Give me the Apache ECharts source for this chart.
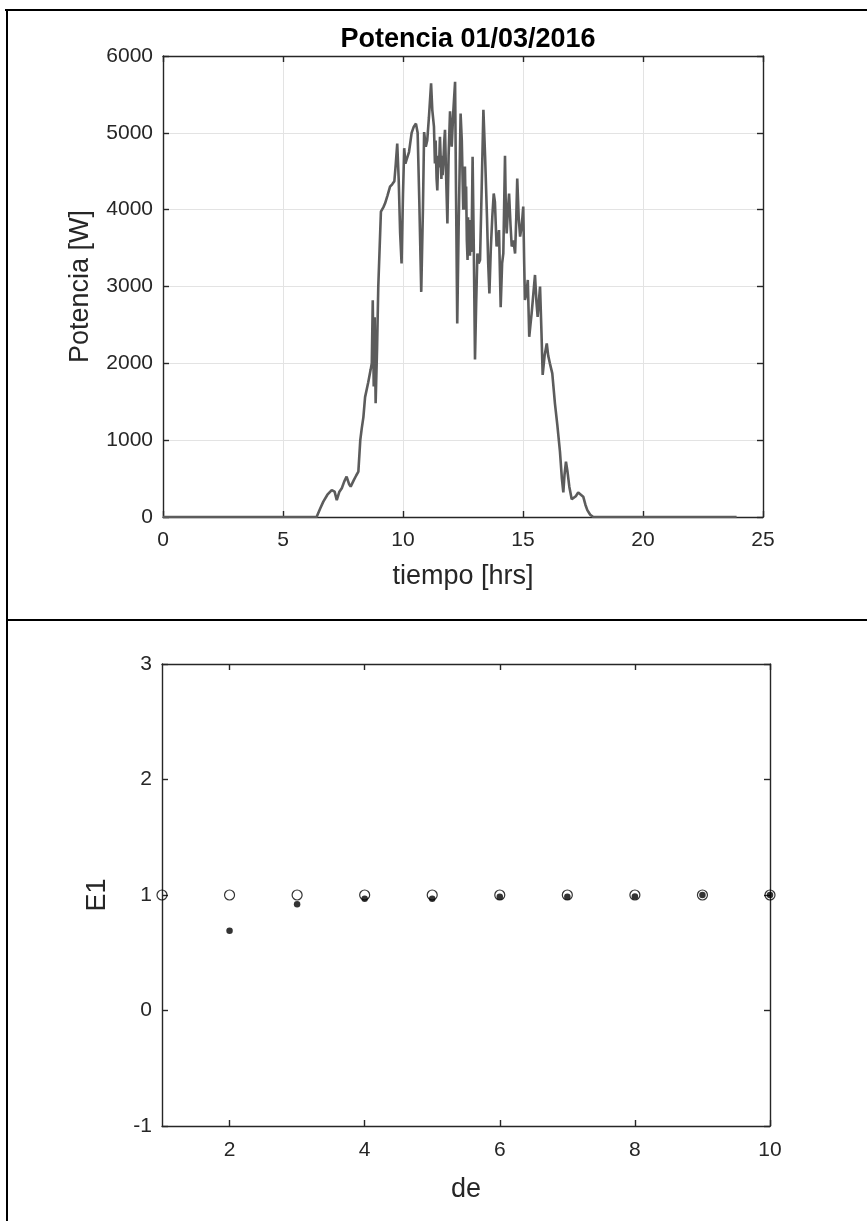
<!DOCTYPE html>
<html>
<head>
<meta charset="utf-8">
<script src="https://cdn.jsdelivr.net/npm/echarts@6/dist/echarts.min.js"></script>
<style>
html,body{margin:0;padding:0;background:#fff;}
#chart{width:867px;height:1221px;}
</style>
</head>
<body>
<div id="chart"></div>
<script>
// ---- Chart 1 data: Potencia 01/03/2016 ----
const titleTop = "Potencia 01/03/2016";
const xTicks1 = [0, 5, 10, 15, 20, 25];
const yTicks1 = [0, 1000, 2000, 3000, 4000, 5000, 6000];
// [tiempo (hrs), potencia (W)]
const powerSeries = [
  [0, 0], [6.40, 0], [6.55, 110], [6.68, 200], [6.85, 290], [7.03, 350], [7.15, 330], [7.24, 220],
  [7.35, 330], [7.45, 375], [7.55, 460], [7.65, 525], [7.75, 430], [7.82, 395], [7.95, 480],
  [8.05, 540], [8.14, 590], [8.22, 1000], [8.28, 1150], [8.35, 1300], [8.42, 1560], [8.55, 1750],
  [8.65, 1915], [8.70, 2000], [8.74, 2820], [8.78, 1700], [8.82, 2600], [8.86, 1480], [8.92, 2200],
  [8.97, 3000], [9.08, 3975], [9.18, 4030], [9.25, 4080], [9.35, 4180], [9.46, 4300], [9.55, 4330],
  [9.64, 4370], [9.70, 4600], [9.76, 4860], [9.82, 4400], [9.88, 3700], [9.94, 3300], [10.00, 4200],
  [10.05, 4800], [10.10, 4600], [10.15, 4650], [10.25, 4750], [10.36, 5000], [10.45, 5080],
  [10.54, 5120], [10.61, 5000], [10.68, 4100], [10.76, 2930], [10.83, 4000], [10.88, 5010],
  [10.95, 4820], [11.01, 4900], [11.08, 5200], [11.17, 5645], [11.22, 5300], [11.29, 5080],
  [11.33, 4600], [11.36, 4900], [11.40, 4400], [11.43, 4250], [11.47, 4700], [11.50, 4550],
  [11.54, 4950], [11.57, 4930], [11.60, 4400], [11.62, 4700], [11.65, 4450], [11.68, 4600],
  [11.72, 4900], [11.75, 5040], [11.80, 4400], [11.85, 3820], [11.90, 4700], [11.96, 5280],
  [12.03, 4820], [12.10, 5300], [12.17, 5665], [12.21, 4200], [12.26, 2520], [12.32, 3800],
  [12.40, 5250], [12.45, 4900], [12.51, 4000], [12.55, 4400], [12.58, 4560], [12.61, 4000],
  [12.63, 4300], [12.66, 3600], [12.69, 3345], [12.71, 3900], [12.73, 3600], [12.76, 3865],
  [12.79, 3400], [12.81, 3700], [12.84, 3450], [12.86, 3600], [12.90, 4690], [12.95, 3500],
  [13.00, 2050], [13.05, 2800], [13.10, 3430], [13.15, 3300], [13.21, 3345], [13.28, 4300],
  [13.35, 5300], [13.42, 4700], [13.50, 3900], [13.55, 3300], [13.60, 2910], [13.66, 3500],
  [13.72, 3900], [13.78, 4210], [13.83, 4100], [13.90, 3520], [13.95, 3600], [14.00, 3735],
  [14.07, 2730], [14.13, 3300], [14.18, 3430], [14.25, 4700], [14.29, 3900], [14.32, 3690],
  [14.37, 4000], [14.42, 4210], [14.48, 3800], [14.53, 3520], [14.60, 3600], [14.67, 3430],
  [14.72, 3900], [14.76, 4405], [14.82, 3900], [14.88, 3650], [14.95, 3800], [15.01, 4040],
  [15.05, 3300], [15.08, 2825], [15.14, 2900], [15.20, 3085], [15.26, 2345], [15.31, 2500],
  [15.36, 2650], [15.43, 2900], [15.50, 3150], [15.56, 2800], [15.61, 2605], [15.66, 2800],
  [15.71, 3000], [15.77, 2400], [15.82, 1850], [15.90, 2100], [15.99, 2260], [16.05, 2100],
  [16.12, 2000], [16.22, 1870], [16.33, 1480], [16.43, 1200], [16.54, 850], [16.62, 500],
  [16.68, 320], [16.73, 550], [16.79, 720], [16.85, 600], [16.93, 395], [17.03, 230], [17.10, 220],
  [17.20, 270], [17.30, 320], [17.38, 320], [17.51, 265], [17.60, 160], [17.68, 90], [17.80, 30],
  [17.93, 0], [23.9, 0]
];

// ---- Chart 2 data: E1 vs de ----
const deOpen = [1, 2, 3, 4, 5, 6, 7, 8, 9, 10];
const e1Open = [1, 1, 1, 1, 1, 1, 1, 1, 1, 1];
const deFilled = [2, 3, 4, 5, 6, 7, 8, 9, 10];
const e1Filled = [0.69, 0.92, 0.968, 0.968, 0.985, 0.985, 0.988, 1.0, 1.0];
const xTicks2 = [2, 4, 6, 8, 10];
const yTicks2 = [-1, 0, 1, 2, 3];

const FONT = "Liberation Sans, Arial, Helvetica, sans-serif";
const AX = '#262626';
const TICK_FS = 21;
const LABEL_FS = 27;

const chart = echarts.init(document.getElementById('chart'), null, {renderer: 'canvas'});

function zip(a, b) { return a.map((v, i) => [v, b[i]]); }
const plain = v => String(v);

const axisCommon = {
  axisLine: {show: true, onZero: false, lineStyle: {color: AX, width: 1.4}},
  axisTick: {show: true, inside: true, length: 6, lineStyle: {color: AX, width: 1.4}},
};

const option = {
  backgroundColor: '#ffffff',
  animation: false,
  title: {
    text: titleTop, left: 463, top: 21, textAlign: 'center',
    textStyle: {fontFamily: FONT, fontSize: 27, fontWeight: 'bold', color: '#000'}
  },
  grid: [
    {left: 163, top: 56, width: 600, height: 461},
    {left: 162, top: 664, width: 608, height: 462}
  ],
  xAxis: [
    Object.assign({}, axisCommon, {
      gridIndex: 0, type: 'value', min: 0, max: 25, interval: 5, position: 'bottom',
      name: 'tiempo [hrs]', nameLocation: 'middle', nameGap: 46,
      nameTextStyle: {fontFamily: FONT, fontSize: LABEL_FS, color: AX},
      axisLabel: {fontFamily: FONT, fontSize: TICK_FS, color: AX, margin: 13, formatter: plain, customValues: xTicks1},
      splitLine: {show: true, lineStyle: {color: '#e3e3e3', width: 1}}
    }),
    Object.assign({}, axisCommon, {
      gridIndex: 0, type: 'value', min: 0, max: 25, interval: 5, position: 'top',
      axisLabel: {show: false}, splitLine: {show: false}
    }),
    Object.assign({}, axisCommon, {
      gridIndex: 1, type: 'value', min: 1, max: 10, position: 'bottom',
      name: 'de', nameLocation: 'middle', nameGap: 50,
      nameTextStyle: {fontFamily: FONT, fontSize: LABEL_FS, color: AX},
      axisLabel: {fontFamily: FONT, fontSize: TICK_FS, color: AX, margin: 14, formatter: plain, customValues: xTicks2},
      axisTick: Object.assign({}, axisCommon.axisTick, {customValues: xTicks2}),
      splitLine: {show: false}
    }),
    Object.assign({}, axisCommon, {
      gridIndex: 1, type: 'value', min: 1, max: 10, position: 'top',
      axisLabel: {show: false, customValues: xTicks2},
      axisTick: Object.assign({}, axisCommon.axisTick, {customValues: xTicks2}),
      splitLine: {show: false}
    })
  ],
  yAxis: [
    Object.assign({}, axisCommon, {
      gridIndex: 0, type: 'value', min: 0, max: 6000, interval: 1000, position: 'left',
      name: 'Potencia [W]', nameLocation: 'middle', nameGap: 69, nameRotate: 90,
      nameTextStyle: {fontFamily: FONT, fontSize: LABEL_FS, color: AX},
      axisLabel: {fontFamily: FONT, fontSize: TICK_FS, color: AX, margin: 10, formatter: plain, customValues: yTicks1},
      splitLine: {show: true, lineStyle: {color: '#e3e3e3', width: 1}}
    }),
    Object.assign({}, axisCommon, {
      gridIndex: 0, type: 'value', min: 0, max: 6000, interval: 1000, position: 'right',
      axisLabel: {show: false}, splitLine: {show: false}
    }),
    Object.assign({}, axisCommon, {
      gridIndex: 1, type: 'value', min: -1, max: 3, interval: 1, position: 'left',
      name: 'E1', nameLocation: 'middle', nameGap: 51, nameRotate: 90,
      nameTextStyle: {fontFamily: FONT, fontSize: LABEL_FS, color: AX},
      axisLabel: {fontFamily: FONT, fontSize: TICK_FS, color: AX, margin: 10, formatter: plain, customValues: yTicks2},
      splitLine: {show: false}
    }),
    Object.assign({}, axisCommon, {
      gridIndex: 1, type: 'value', min: -1, max: 3, interval: 1, position: 'right',
      axisLabel: {show: false}, splitLine: {show: false}
    })
  ],
  series: [
    {
      type: 'line', xAxisIndex: 0, yAxisIndex: 0,
      data: powerSeries,
      showSymbol: false, symbol: 'none', smooth: false, sampling: null,
      lineStyle: {color: '#5c5c5c', width: 2.6}, z: 5
    },
    {
      type: 'scatter', xAxisIndex: 2, yAxisIndex: 2,
      data: zip(deOpen, e1Open),
      symbol: 'circle', symbolSize: 10,
      itemStyle: {color: 'rgba(255,255,255,0)', borderColor: '#000', borderWidth: 1.2}, z: 5
    },
    {
      type: 'scatter', xAxisIndex: 2, yAxisIndex: 2,
      data: zip(deFilled, e1Filled),
      symbol: 'circle', symbolSize: 6.5,
      itemStyle: {color: '#000', borderWidth: 0}, z: 6
    }
  ],
  graphic: [
    {type: 'line', shape: {x1: 5, y1: 10, x2: 867, y2: 10}, style: {stroke: '#000', lineWidth: 2}},
    {type: 'line', shape: {x1: 7, y1: 10, x2: 7, y2: 1221}, style: {stroke: '#000', lineWidth: 2}},
    {type: 'line', shape: {x1: 7, y1: 620, x2: 867, y2: 620}, style: {stroke: '#000', lineWidth: 2}}
  ]
};

chart.setOption(option);
</script>
</body>
</html>
